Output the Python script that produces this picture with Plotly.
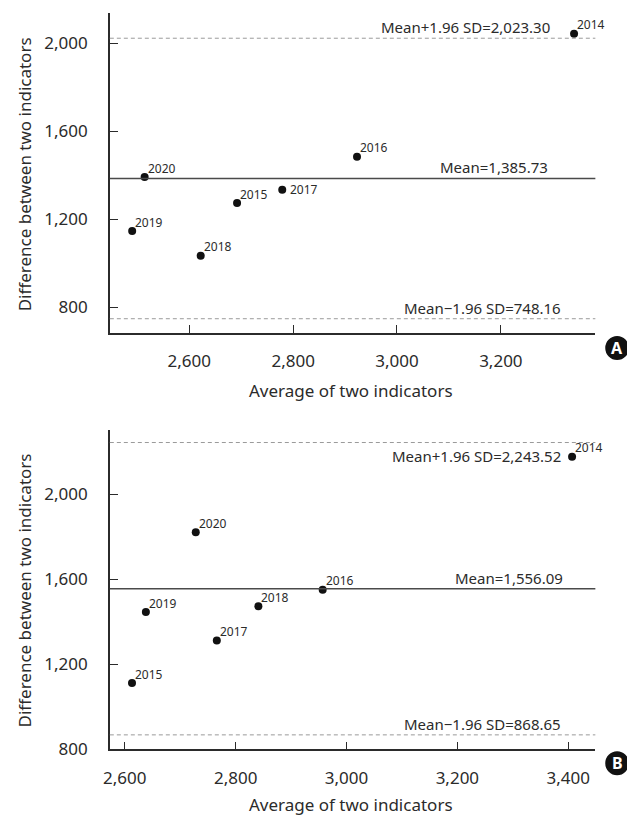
import plotly.graph_objects as go

# ---------------- data ----------------
years_a = ["2020", "2019", "2018", "2015", "2017", "2016", "2014"]
avg_a = [2514, 2490, 2622, 2692, 2779, 2923, 3341]
diff_a = [1392, 1147, 1035, 1274, 1335, 1485, 2044]
mean_a = 1385.73
upper_a = 2023.30
lower_a = 748.16

years_b = ["2020", "2019", "2018", "2017", "2015", "2016", "2014"]
avg_b = [2728, 2638, 2841, 2766, 2613, 2957, 3407]
diff_b = [1821, 1446, 1474, 1313, 1112, 1551, 2177]
mean_b = 1556.09
upper_b = 2243.52
lower_b = 868.65

x_ticks_a = [2600, 2800, 3000, 3200]
y_ticks_a = [800, 1200, 1600, 2000]
x_ticks_b = [2600, 2800, 3000, 3200, 3400]
y_ticks_b = [800, 1200, 1600, 2000]

W, H = 627, 816          # target picture size (positions below are read in this space)
PAGE_H = 827             # page height that ends up squeezed into the 816-px picture
FIG_H = 840              # figure height (a little taller so nothing is clipped by the svg)
FONT = "Noto Sans"
DARK = "#2b2b2b"
LINE = "#4a4a4a"
DASH = "#9a9a9a"


def px(x):
    return x / W


def py(y):
    return 1 - (y * PAGE_H / H) / FIG_H


fig = go.Figure()

fig.add_trace(go.Scatter(x=avg_a, y=diff_a, mode="markers",
                         marker=dict(color="#111", size=8), xaxis="x", yaxis="y",
                         showlegend=False, cliponaxis=False, hoverinfo="skip"))
fig.add_trace(go.Scatter(x=avg_b, y=diff_b, mode="markers",
                         marker=dict(color="#111", size=8), xaxis="x2", yaxis="y2",
                         showlegend=False, cliponaxis=False, hoverinfo="skip"))

# point labels (upper right of each dot; 2017 in panel A sits to the right)
pt_font = dict(family=FONT, size=12, color=DARK)
for xr, yr, xs, ys, labs in (("x", "y", avg_a, diff_a, years_a), ("x2", "y2", avg_b, diff_b, years_b)):
    for xv, yv, t in zip(xs, ys, labs):
        side = (xr == "x" and t == "2017")
        fig.add_annotation(xref=xr, yref=yr, x=xv, y=yv, text=t, showarrow=False, font=pt_font,
                           xanchor="left", yanchor="middle", borderpad=0,
                           xshift=7 if side else 2, yshift=0 if side else 9)

axis_common = dict(showgrid=False, zeroline=False, showline=True, linecolor=DARK, linewidth=1.5,
                   ticks="inside", ticklen=8, tickwidth=1, tickcolor=DARK,
                   tickfont=dict(family=FONT, size=17, color=DARK), tickformat=",d")

fig.update_layout(
    width=W, height=FIG_H, margin=dict(l=0, r=0, t=0, b=0),
    paper_bgcolor="white", plot_bgcolor="white",
    xaxis=dict(domain=[px(104), px(595)], range=[2447, 3382], tickvals=x_ticks_a,
               anchor="y", ticklabelstandoff=12, **axis_common),
    yaxis=dict(domain=[py(333), py(13)], range=[683, 2138], tickvals=y_ticks_a,
               anchor="x", ticklabelstandoff=17, **axis_common),
    xaxis2=dict(domain=[px(104), px(595)], range=[2573, 3449], tickvals=x_ticks_b,
                anchor="y2", ticklabelstandoff=12, **axis_common),
    yaxis2=dict(domain=[py(749.3), py(430)], range=[800, 2302], tickvals=y_ticks_b,
                anchor="x2", ticklabelstandoff=17, **axis_common),
)

# reference lines
for xr, yr, m, u, l in [("x", "y", mean_a, upper_a, lower_a), ("x2", "y2", mean_b, upper_b, lower_b)]:
    fig.add_shape(type="line", xref=xr + " domain", yref=yr, x0=0, x1=1, y0=m, y1=m,
                  line=dict(color=LINE, width=1.5))
    for v in (u, l):
        fig.add_shape(type="line", xref=xr + " domain", yref=yr, x0=0, x1=1, y0=v, y1=v,
                      line=dict(color=DASH, width=1, dash="4px,3px"))

lab_font = dict(family=FONT, size=15, color=DARK)


def fmt(v):
    return f"{v:,.2f}"


anns = [
    dict(xref="x domain", yref="y", x=0.908, y=upper_a, text="Mean+1.96 SD=" + fmt(upper_a),
         xanchor="right", yanchor="bottom"),
    dict(xref="x domain", yref="y", x=0.904, y=mean_a, text="Mean=" + fmt(mean_a),
         xanchor="right", yanchor="bottom"),
    dict(xref="x domain", yref="y", x=0.931, y=lower_a, text="Mean\u22121.96 SD=" + fmt(lower_a),
         xanchor="right", yanchor="bottom"),
    dict(xref="x2 domain", yref="y2", x=0.931, y=upper_b, text="Mean+1.96 SD=" + fmt(upper_b),
         xanchor="right", yanchor="top", yshift=-2),
    dict(xref="x2 domain", yref="y2", x=0.935, y=mean_b, text="Mean=" + fmt(mean_b),
         xanchor="right", yanchor="bottom"),
    dict(xref="x2 domain", yref="y2", x=0.931, y=lower_b, text="Mean\u22121.96 SD=" + fmt(lower_b),
         xanchor="right", yanchor="bottom"),
]
for a in anns:
    fig.add_annotation(showarrow=False, font=lab_font, borderpad=0, **a)

title_font = dict(family=FONT, size=17, color=DARK)
for cy in (390, 804):
    fig.add_annotation(xref="paper", yref="paper", x=px(347.5), y=py(cy), text="Average of two indicators",
                       showarrow=False, font=title_font, xanchor="center", yanchor="middle", borderpad=0)
for cy in (174.5, 590.5):
    fig.add_annotation(xref="paper", yref="paper", x=px(18), y=py(cy), text="Difference between two indicators",
                       showarrow=False, font=title_font, xanchor="center", yanchor="middle", textangle=-90)

# panel badges
for letter, cy in (("A", 348), ("B", 763)):
    fig.add_shape(type="circle", xref="paper", yref="paper", x0=px(605), x1=px(629),
                  y0=py(cy + 12), y1=py(cy - 12), fillcolor="#111", line=dict(color="#111", width=0))
    fig.add_annotation(xref="paper", yref="paper", x=px(617), y=py(cy), text="<b>" + letter + "</b>",
                       showarrow=False, font=dict(family=FONT, size=16, color="white"),
                       xanchor="center", yanchor="middle")

fig.write_html("out.html", config={"displayModeBar": False},
               post_script="document.body.style.margin='0';document.body.style.overflow='hidden';")
